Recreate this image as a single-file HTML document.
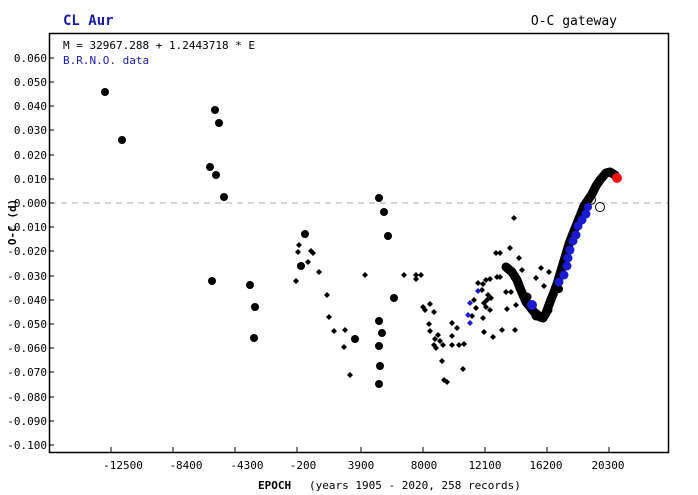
<!DOCTYPE html>
<html><head><meta charset="utf-8"><style>
html,body{margin:0;padding:0;background:#fff}
svg{display:block;font-family:"DejaVu Sans Mono","Liberation Mono",monospace}
</style></head><body>
<svg width="698" height="495" viewBox="0 0 698 495" xmlns="http://www.w3.org/2000/svg">
<defs>
<path id="d" d="M0,-3 L3,0 L0,3 L-3,0 Z"/>
</defs>
<text x="63" y="25" font-size="14" font-weight="bold" fill="#1a1aa8">CL Aur</text>
<text x="617" y="25" font-size="13" text-anchor="end" fill="#000">O-C gateway</text>
<rect x="49.5" y="33.5" width="619" height="419" fill="none" stroke="#000" stroke-width="1.5"/>
<line x1="50" y1="203" x2="668" y2="203" stroke="#aaa" stroke-dasharray="6,5"/>
<text x="63" y="49" font-size="11">M = 32967.288 + 1.2443718 * E</text>
<text x="63" y="64" font-size="11" fill="#1a1aa8">B.R.N.O. data</text>
<g font-size="11" text-anchor="end">
<g stroke="#000">
<line x1="49" y1="58" x2="54" y2="58"/><line x1="49" y1="82" x2="54" y2="82"/><line x1="49" y1="106" x2="54" y2="106"/><line x1="49" y1="130" x2="54" y2="130"/><line x1="49" y1="155" x2="54" y2="155"/><line x1="49" y1="179" x2="54" y2="179"/><line x1="49" y1="203" x2="54" y2="203"/><line x1="49" y1="227" x2="54" y2="227"/><line x1="49" y1="251" x2="54" y2="251"/><line x1="49" y1="276" x2="54" y2="276"/><line x1="49" y1="300" x2="54" y2="300"/><line x1="49" y1="324" x2="54" y2="324"/><line x1="49" y1="348" x2="54" y2="348"/><line x1="49" y1="372" x2="54" y2="372"/><line x1="49" y1="397" x2="54" y2="397"/><line x1="49" y1="421" x2="54" y2="421"/><line x1="49" y1="445" x2="54" y2="445"/>
</g>
<text x="47" y="62">0.060</text><text x="47" y="86">0.050</text><text x="47" y="110">0.040</text><text x="47" y="134">0.030</text><text x="47" y="159">0.020</text><text x="47" y="183">0.010</text><text x="47" y="207">0.000</text><text x="47" y="231">-0.010</text><text x="47" y="255">-0.020</text><text x="47" y="280">-0.030</text><text x="47" y="304">-0.040</text><text x="47" y="328">-0.050</text><text x="47" y="352">-0.060</text><text x="47" y="376">-0.070</text><text x="47" y="401">-0.080</text><text x="47" y="425">-0.090</text><text x="47" y="449">-0.100</text>
</g>
<text transform="translate(16,222) rotate(-90)" font-size="11" font-weight="bold" text-anchor="middle">O-C (d)</text>
<g stroke="#000"><line x1="111" y1="447" x2="111" y2="452"/><line x1="173" y1="447" x2="173" y2="452"/><line x1="235" y1="447" x2="235" y2="452"/><line x1="297" y1="447" x2="297" y2="452"/><line x1="361" y1="447" x2="361" y2="452"/><line x1="423" y1="447" x2="423" y2="452"/><line x1="485" y1="447" x2="485" y2="452"/><line x1="547" y1="447" x2="547" y2="452"/><line x1="609" y1="447" x2="609" y2="452"/></g>
<g font-size="11" text-anchor="middle">
<text x="123" y="469">-12500</text><text x="186" y="469">-8400</text><text x="247" y="469">-4300</text><text x="303" y="469">-200</text><text x="361" y="469">3900</text><text x="424" y="469">8000</text><text x="485" y="469">12100</text><text x="546" y="469">16200</text><text x="608" y="469">20300</text>
</g>
<text x="258" y="489" font-size="11" font-weight="bold">EPOCH</text>
<text x="309" y="489" font-size="11">(years 1905 - 2020, 258 records)</text>
<g fill="#000">
<circle cx="105" cy="92" r="4"/><circle cx="122" cy="140" r="4"/><circle cx="215" cy="110" r="4"/><circle cx="219" cy="123" r="4"/><circle cx="210" cy="167" r="4"/><circle cx="216" cy="175" r="4"/><circle cx="224" cy="197" r="4"/><circle cx="212" cy="281" r="4"/><circle cx="250" cy="285" r="4"/><circle cx="255" cy="307" r="4"/><circle cx="254" cy="338" r="4"/><circle cx="305" cy="234" r="4"/><circle cx="301" cy="266" r="4"/><circle cx="355" cy="339" r="4"/><circle cx="379" cy="198" r="4"/><circle cx="384" cy="212" r="4"/><circle cx="388" cy="236" r="4"/><circle cx="379" cy="321" r="4"/><circle cx="382" cy="333" r="4"/><circle cx="379" cy="346" r="4"/><circle cx="380" cy="366" r="4"/><circle cx="379" cy="384" r="4"/><circle cx="394" cy="298" r="4"/>
</g>
<g fill="#000">
<use href="#d" x="299" y="245"/><use href="#d" x="298" y="252"/><use href="#d" x="311" y="251"/><use href="#d" x="313" y="253"/><use href="#d" x="308" y="262"/><use href="#d" x="296" y="281"/><use href="#d" x="319" y="272"/><use href="#d" x="327" y="295"/><use href="#d" x="329" y="317"/><use href="#d" x="334" y="331"/><use href="#d" x="345" y="330"/><use href="#d" x="344" y="347"/><use href="#d" x="350" y="375"/><use href="#d" x="365" y="275"/><use href="#d" x="416" y="275"/><use href="#d" x="416" y="279"/><use href="#d" x="421" y="275"/><use href="#d" x="404" y="275"/><use href="#d" x="423" y="307"/><use href="#d" x="425" y="310"/><use href="#d" x="430" y="304"/><use href="#d" x="434" y="312"/><use href="#d" x="429" y="324"/><use href="#d" x="430" y="331"/><use href="#d" x="435" y="339"/><use href="#d" x="438" y="335"/><use href="#d" x="443" y="345"/><use href="#d" x="434" y="345"/><use href="#d" x="436" y="348"/><use href="#d" x="440" y="341"/><use href="#d" x="452" y="323"/><use href="#d" x="457" y="328"/><use href="#d" x="452" y="336"/><use href="#d" x="452" y="345"/><use href="#d" x="459" y="345"/><use href="#d" x="464" y="344"/><use href="#d" x="442" y="361"/><use href="#d" x="463" y="369"/><use href="#d" x="444" y="380"/><use href="#d" x="447" y="382"/><use href="#d" x="472" y="316"/><use href="#d" x="476" y="308"/><use href="#d" x="474" y="300"/><use href="#d" x="478" y="283"/><use href="#d" x="482" y="290"/><use href="#d" x="483" y="284"/><use href="#d" x="486" y="280"/><use href="#d" x="490" y="279"/><use href="#d" x="497" y="277"/><use href="#d" x="500" y="277"/><use href="#d" x="484" y="303"/><use href="#d" x="487" y="300"/><use href="#d" x="486" y="307"/><use href="#d" x="488" y="295"/><use href="#d" x="491" y="298"/><use href="#d" x="490" y="310"/><use href="#d" x="483" y="318"/><use href="#d" x="484" y="332"/><use href="#d" x="493" y="337"/><use href="#d" x="502" y="330"/><use href="#d" x="507" y="309"/><use href="#d" x="514" y="218"/><use href="#d" x="510" y="248"/><use href="#d" x="496" y="253"/><use href="#d" x="500" y="253"/><use href="#d" x="519" y="258"/><use href="#d" x="522" y="270"/><use href="#d" x="541" y="268"/><use href="#d" x="549" y="272"/><use href="#d" x="536" y="278"/><use href="#d" x="544" y="286"/><use href="#d" x="514" y="279"/><use href="#d" x="506" y="292"/><use href="#d" x="511" y="292"/><use href="#d" x="520" y="292"/><use href="#d" x="516" y="305"/><use href="#d" x="515" y="330"/>
</g>
<g fill="#1a1ad0">
<use href="#d" x="478" y="291"/><use href="#d" x="470" y="303"/><use href="#d" x="468" y="315"/><use href="#d" x="470" y="323"/>
</g>
<polyline fill="none" stroke="#000" stroke-width="9" stroke-linecap="round" stroke-linejoin="round" points="506,267 512,272 517,280 520,288 523,295 526,302 530,307 534,312 540,317 543,318 546,313 550,302 554,292 557,284 560,274 563,264 566,254 569,244 572,236 576,226 580,216 584,206 588,200 592,194 596,186 600,180 606,173 610,172 615,175"/>
<g fill="#000"><circle cx="527" cy="297" r="4.5"/><circle cx="536" cy="316" r="4.5"/><circle cx="548" cy="310" r="4.5"/><circle cx="559" cy="289" r="4"/></g>
<g fill="none" stroke="#000"><circle cx="591" cy="200" r="4.5"/><circle cx="600" cy="207" r="4.5"/></g>
<g fill="#1a1ad0">
<circle cx="532" cy="305" r="5"/><circle cx="559" cy="282" r="4.5"/><circle cx="564" cy="275" r="4.5"/><circle cx="567" cy="266" r="4.5"/><circle cx="568" cy="258" r="4.5"/><circle cx="570" cy="250" r="4.5"/><circle cx="573" cy="241" r="4.5"/><circle cx="576" cy="235" r="4.5"/><circle cx="578" cy="226" r="4.5"/><circle cx="582" cy="220" r="4.5"/><circle cx="586" cy="214" r="4.5"/><circle cx="588" cy="207" r="4"/>
</g>
<circle cx="617" cy="178" r="5" fill="#ff1010"/>
</svg>
</body></html>
